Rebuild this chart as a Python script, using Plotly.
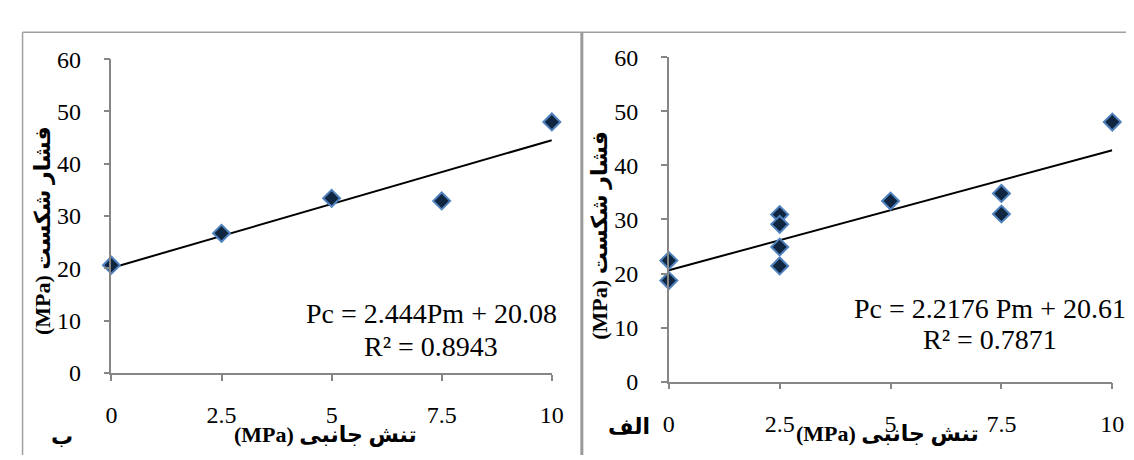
import plotly.graph_objects as go

W, H = 1134, 460

# ---- data ----
left_x = [0, 2.5, 5, 7.5, 10]
left_y = [20.6, 26.7, 33.4, 32.9, 48.0]
left_slope, left_intercept = 2.444, 20.08
left_eq = "Pc = 2.444Pm + 20.08"
left_r2 = "R² = 0.8943"
left_tag = "ب"

right_x = [0, 0, 2.5, 2.5, 2.5, 2.5, 5, 7.5, 7.5, 10]
right_y = [22.4, 18.7, 30.9, 29.1, 24.9, 21.4, 33.4, 34.8, 31.0, 48.0]
right_slope, right_intercept = 2.2176, 20.61
right_eq = "Pc = 2.2176 Pm + 20.61"
right_r2 = "R² = 0.7871"
right_tag = "الف"

x_ticks = [0, 2.5, 5, 7.5, 10]
x_ticktext = ["0", "2.5", "5", "7.5", "10"]
y_ticks = [0, 10, 20, 30, 40, 50, 60]
x_title = "<b>(MPa) تنش جانبی</b>"
y_title = "<b>(MPa) فشار شکست</b>"
trend_x = [0, 10]

FONT = "Liberation Serif, Times New Roman, DejaVu Sans, serif"
AX_COL = "#868686"
FILL = "#10253f"
EDGE = "#4f81bd"


def px(x):
    return x / W


def py(y):
    return (H - y) / H


fig = go.Figure()

for i, (xs, ys, m, b) in enumerate([
    (left_x, left_y, left_slope, left_intercept),
    (right_x, right_y, right_slope, right_intercept),
]):
    ax = "" if i == 0 else "2"
    fig.add_trace(go.Scatter(
        x=trend_x, y=[m * t + b for t in trend_x], mode="lines",
        line=dict(color="black", width=2), xaxis="x" + ax, yaxis="y" + ax,
        showlegend=False, cliponaxis=False, hoverinfo="skip"))
    fig.add_trace(go.Scatter(
        x=xs, y=ys, mode="markers",
        marker=dict(symbol="diamond", size=13, color=FILL,
                    line=dict(color=EDGE, width=2)),
        xaxis="x" + ax, yaxis="y" + ax, showlegend=False, cliponaxis=False))

xaxis_common = dict(range=[0, 10], tickvals=x_ticks, ticktext=x_ticktext,
                    showgrid=False, zeroline=False, showline=True,
                    linecolor=AX_COL, linewidth=1.5, ticks="outside",
                    ticklen=6, tickcolor=AX_COL, tickwidth=1.5,
                    tickfont=dict(family=FONT, size=24, color="black"),
                    ticklabelstandoff=14, fixedrange=True)
yaxis_common = dict(range=[0, 60], tickvals=y_ticks,
                    showgrid=False, zeroline=False, showline=True,
                    linecolor=AX_COL, linewidth=1.5, ticks="outside",
                    ticklen=6, tickcolor=AX_COL, tickwidth=1.5,
                    tickfont=dict(family=FONT, size=24, color="black"),
                    ticklabelstandoff=18, fixedrange=True)

fig.update_layout(
    width=W, height=H, autosize=False,
    margin=dict(l=0, r=0, t=0, b=0),
    paper_bgcolor="white", plot_bgcolor="white",
    font=dict(family=FONT, color="black"),
    xaxis=dict(domain=[px(99), px(546.5)], anchor="y", **xaxis_common),
    yaxis=dict(domain=[py(373), py(40.5)], anchor="x", **yaxis_common),
    xaxis2=dict(domain=[px(665.4), px(1116)], anchor="y2", **xaxis_common),
    yaxis2=dict(domain=[py(382.3), py(38.3)], anchor="x2", **yaxis_common),
)

annos = []
for cx, y1, y2, eq, r2 in [(424, 310, 345, left_eq, left_r2),
                           (992, 305, 338, right_eq, right_r2)]:
    for cy, t in [(y1, eq), (y2, r2)]:
        annos.append(dict(x=px(cx), y=py(cy), text=t, xref="paper",
                          yref="paper", showarrow=False, xanchor="center",
                          yanchor="middle",
                          font=dict(family=FONT, size=28, color="black")))

for cx, cy in [(317, 438), (888, 437)]:
    annos.append(dict(x=px(cx), y=py(cy), text=x_title, xref="paper",
                      yref="paper", showarrow=False, xanchor="center",
                      yanchor="middle",
                      font=dict(family=FONT, size=22, color="black")))
for cx, cy in [(29, 222), (595, 227)]:
    annos.append(dict(x=px(cx), y=py(cy), text=y_title, xref="paper",
                      yref="paper", showarrow=False, xanchor="center",
                      yanchor="middle", textangle=-90,
                      font=dict(family=FONT, size=22, color="black")))
for cx, cy, t in [(49, 440, left_tag), (625, 430, right_tag)]:
    annos.append(dict(x=px(cx), y=py(cy), text="<b>" + t + "</b>",
                      xref="paper", yref="paper", showarrow=False,
                      xanchor="center", yanchor="middle",
                      font=dict(family=FONT, size=22, color="black")))

fig.update_layout(annotations=annos)

BORDER = "#a0a0a0"
fig.update_layout(shapes=[
    dict(type="line", xref="paper", yref="paper", x0=px(8.7), x1=1,
         y0=py(12), y1=py(12), line=dict(color=BORDER, width=1.5)),
    dict(type="line", xref="paper", yref="paper", x0=px(8.7), x1=px(8.7),
         y0=py(12), y1=0, line=dict(color=BORDER, width=1.5)),
    dict(type="line", xref="paper", yref="paper", x0=px(577), x1=px(577),
         y0=py(12), y1=0, line=dict(color="#9a9a9a", width=3)),
])

fig.write_html("out.html")
